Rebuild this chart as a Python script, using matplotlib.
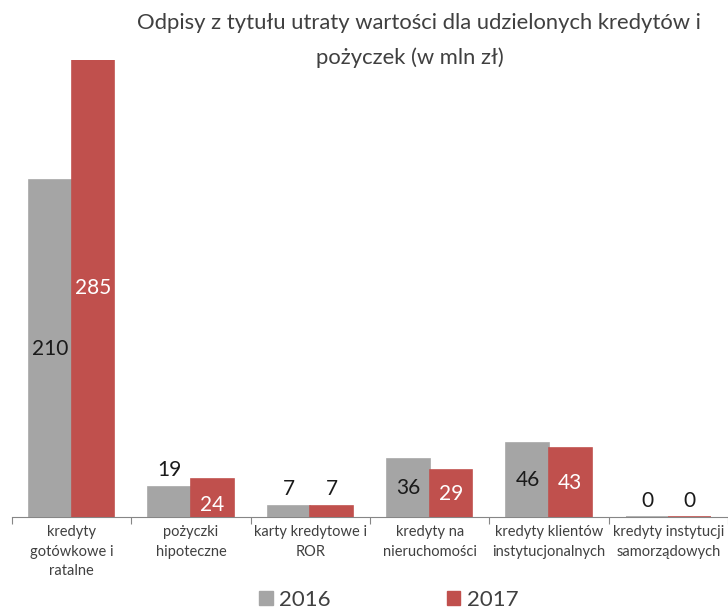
import matplotlib.pyplot as plt
import numpy as np

plt.rcParams['font.family'] = ['Lato', 'DejaVu Sans']

categories = ["kredyty\ngotówkowe i\nratalne", "pożyczki\nhipoteczne",
              "karty kredytowe i\nROR", "kredyty na\nnieruchomości",
              "kredyty klientów\ninstytucjonalnych",
              "kredyty instytucji\nsamorządowych"]
series_names = ["2016", "2017"]
values_2016 = [210, 19, 7, 36, 46, 0]
values_2017 = [285, 24, 7, 29, 43, 0]

grey = "#A5A5A5"
red = "#C0504D"

fig = plt.figure(figsize=(7.28, 6.10), dpi=100)
ax = fig.add_axes([12 / 728, 93 / 610, 716 / 728, 457 / 610])

x = np.arange(len(categories))
w = 0.357
b1 = ax.bar(x - w / 2, values_2016, w, color=grey, edgecolor=grey, lw=1.2,
            label=series_names[0], zorder=3)
b2 = ax.bar(x + w / 2, values_2017, w, color=red, edgecolor=red, lw=1.2,
            label=series_names[1], zorder=3)


def put_labels(bars, vals, inside_color):
    for bar, v in zip(bars, vals):
        cx = bar.get_x() + bar.get_width() / 2
        if v >= 29:
            ax.text(cx, v / 2, str(v), ha='center', va='center',
                    fontsize=15, color=inside_color, zorder=4)
        elif v >= 20:
            ax.text(cx, 1.5, str(v), ha='center', va='bottom',
                    fontsize=15, color=inside_color, zorder=4)
        else:
            ax.text(cx, v + 4, str(v), ha='center', va='bottom',
                    fontsize=15, color='#1a1a1a', zorder=4)


put_labels(b1, values_2016, '#1a1a1a')
put_labels(b2, values_2017, 'white')

ax.set_xlim(-0.5, 5.40)
ax.set_ylim(0, 285)
for s in ['top', 'right', 'left']:
    ax.spines[s].set_visible(False)
ax.spines['bottom'].set_color('#868686')
ax.set_yticks([])
ax.set_xticks(np.arange(-0.5, 6, 1))
ax.set_xticklabels([])
ax.tick_params(axis='x', length=5, color='#868686')
for i, c in enumerate(categories):
    ax.text(i, -5, c, ha='center', va='top', fontsize=10.5,
            color='#404040', linespacing=1.5, clip_on=False)

fig.text(0.575, 0.963, "Odpisy z tytułu utraty wartości dla udzielonych kredytów i",
         ha='center', va='center', fontsize=15.8, color='#404040')
fig.text(0.563, 0.905, "pożyczek (w mln zł)",
         ha='center', va='center', fontsize=15.8, color='#404040')

h1 = plt.Rectangle((0, 0), 1, 1, color=grey)
h2 = plt.Rectangle((0, 0), 1, 1, color=red)
fig.legend([h1, h2], series_names, loc='center', bbox_to_anchor=(0.534, 0.017),
           ncol=2, frameon=False, fontsize=16, handlelength=0.6,
           handleheight=0.6, handletextpad=0.3, columnspacing=5.2,
           labelcolor='#404040', borderpad=0.1)

fig.savefig("out.png", dpi=100)
